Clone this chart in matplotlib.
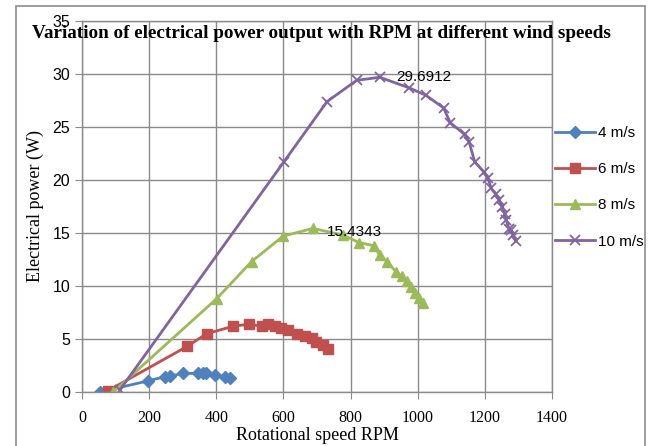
import matplotlib
matplotlib.use("Agg")
import matplotlib.pyplot as plt

# data
rpm_4 = [54, 197, 247, 262, 301, 346, 361, 370, 396, 426, 440]
pow_4 = [0.0, 1.05, 1.45, 1.5, 1.76, 1.75, 1.75, 1.75, 1.6, 1.4, 1.3]

rpm_6 = [76, 313, 371, 450, 498, 535, 554, 574, 594, 614, 641, 664, 684, 698, 718, 733]
pow_6 = [0.1, 4.3, 5.5, 6.2, 6.4, 6.2, 6.4, 6.2, 6.0, 5.85, 5.45, 5.3, 5.1, 4.75, 4.4, 4.1]

rpm_8 = [93, 401, 505, 599, 688, 778, 825, 869, 887, 909, 935, 954, 969, 981, 991, 1004, 1016]
pow_8 = [0.0, 8.8, 12.3, 14.7, 15.4343, 14.8, 14.1, 13.8, 12.9, 12.3, 11.35, 10.9, 10.5,
         9.9, 9.3, 8.84, 8.4]

rpm_10 = [113, 601, 730, 818, 887, 974, 1024, 1077, 1097, 1140, 1153, 1170, 1196, 1209,
          1219, 1232, 1242, 1252, 1259, 1264, 1272, 1279, 1284, 1292]
pow_10 = [0.2, 21.7, 27.4, 29.4, 29.6912, 28.7, 28.0, 26.8, 25.4, 24.3, 23.6, 21.7, 20.8,
          20.2, 19.2, 18.7, 18.1, 17.5, 16.8, 16.2, 15.4, 15.3, 14.8, 14.2]

labels = ["4 m/s", "6 m/s", "8 m/s", "10 m/s"]
colors = ["#4F81BD", "#C0504D", "#9BBB59", "#8064A2"]

sans = ["Liberation Sans Narrow", "Liberation Sans", "DejaVu Sans"]
serif = ["Liberation Serif", "DejaVu Serif"]

fig = plt.figure(figsize=(6.52, 4.46), dpi=100)
fig.patch.set_facecolor("white")
ax = fig.add_axes([82 / 652, 54 / 446, 470 / 652, 371 / 446])

# outer chart border (bottom edge falls outside the image, as in the original crop)
border = plt.Rectangle((16 / 652, -0.05), 629 / 652, 1.05 - 6 / 446, transform=fig.transFigure,
                       fill=False, edgecolor="#8c8c8c", linewidth=1.2)
fig.add_artist(border)

ax.plot(rpm_4, pow_4, color=colors[0], marker="D", markersize=6, linewidth=2, label=labels[0])
ax.plot(rpm_6, pow_6, color=colors[1], marker="s", markersize=7.5, linewidth=2, label=labels[1])
ax.plot(rpm_8, pow_8, color=colors[2], marker="^", markersize=7.5, linewidth=2, label=labels[2])
ax.plot(rpm_10, pow_10, color=colors[3], marker="x", markersize=7, markeredgewidth=1.3,
        linewidth=2, label=labels[3])

ax.text(935, 29.7, "29.6912", fontsize=11, family=sans, va="center", ha="left")
ax.text(728, 15.1, "15.4343", fontsize=11, family=sans, va="center", ha="left")

ax.set_xlim(0, 1400)
ax.set_ylim(0, 35)
ax.set_xticks(range(0, 1401, 200))
ax.set_yticks(range(0, 36, 5))
ax.grid(True, color="#8a8a8a", linewidth=1)
ax.set_axisbelow(True)
for s in ax.spines.values():
    s.set_color("#8a8a8a")
    s.set_linewidth(1)
ax.tick_params(axis="both", color="#8a8a8a", length=5)
for t in ax.get_yticklabels():
    t.set_family(sans)
    t.set_fontsize(11.5)
for t in ax.get_xticklabels():
    t.set_family(serif)
    t.set_fontsize(11.5)
ax.tick_params(axis="x", pad=8)

ax.set_xlabel("Rotational speed RPM", family=serif, fontsize=13, labelpad=1)
ax.set_ylabel("Electrical power (W)", family=serif, fontsize=13, labelpad=6)

fig.text(321 / 652, 1 - 33 / 446, "Variation of electrical power output with RPM at different wind speeds",
         family=serif, fontsize=13.8, fontweight="bold", ha="center", va="center")

fig.legend(loc="upper left", bbox_to_anchor=(549 / 652, 1 - 120 / 446), frameon=False,
           prop={"family": sans, "size": 11}, handlelength=2.6, labelspacing=1.45,
           handletextpad=0.2, borderaxespad=0)

fig.savefig("out.png", dpi=100)
